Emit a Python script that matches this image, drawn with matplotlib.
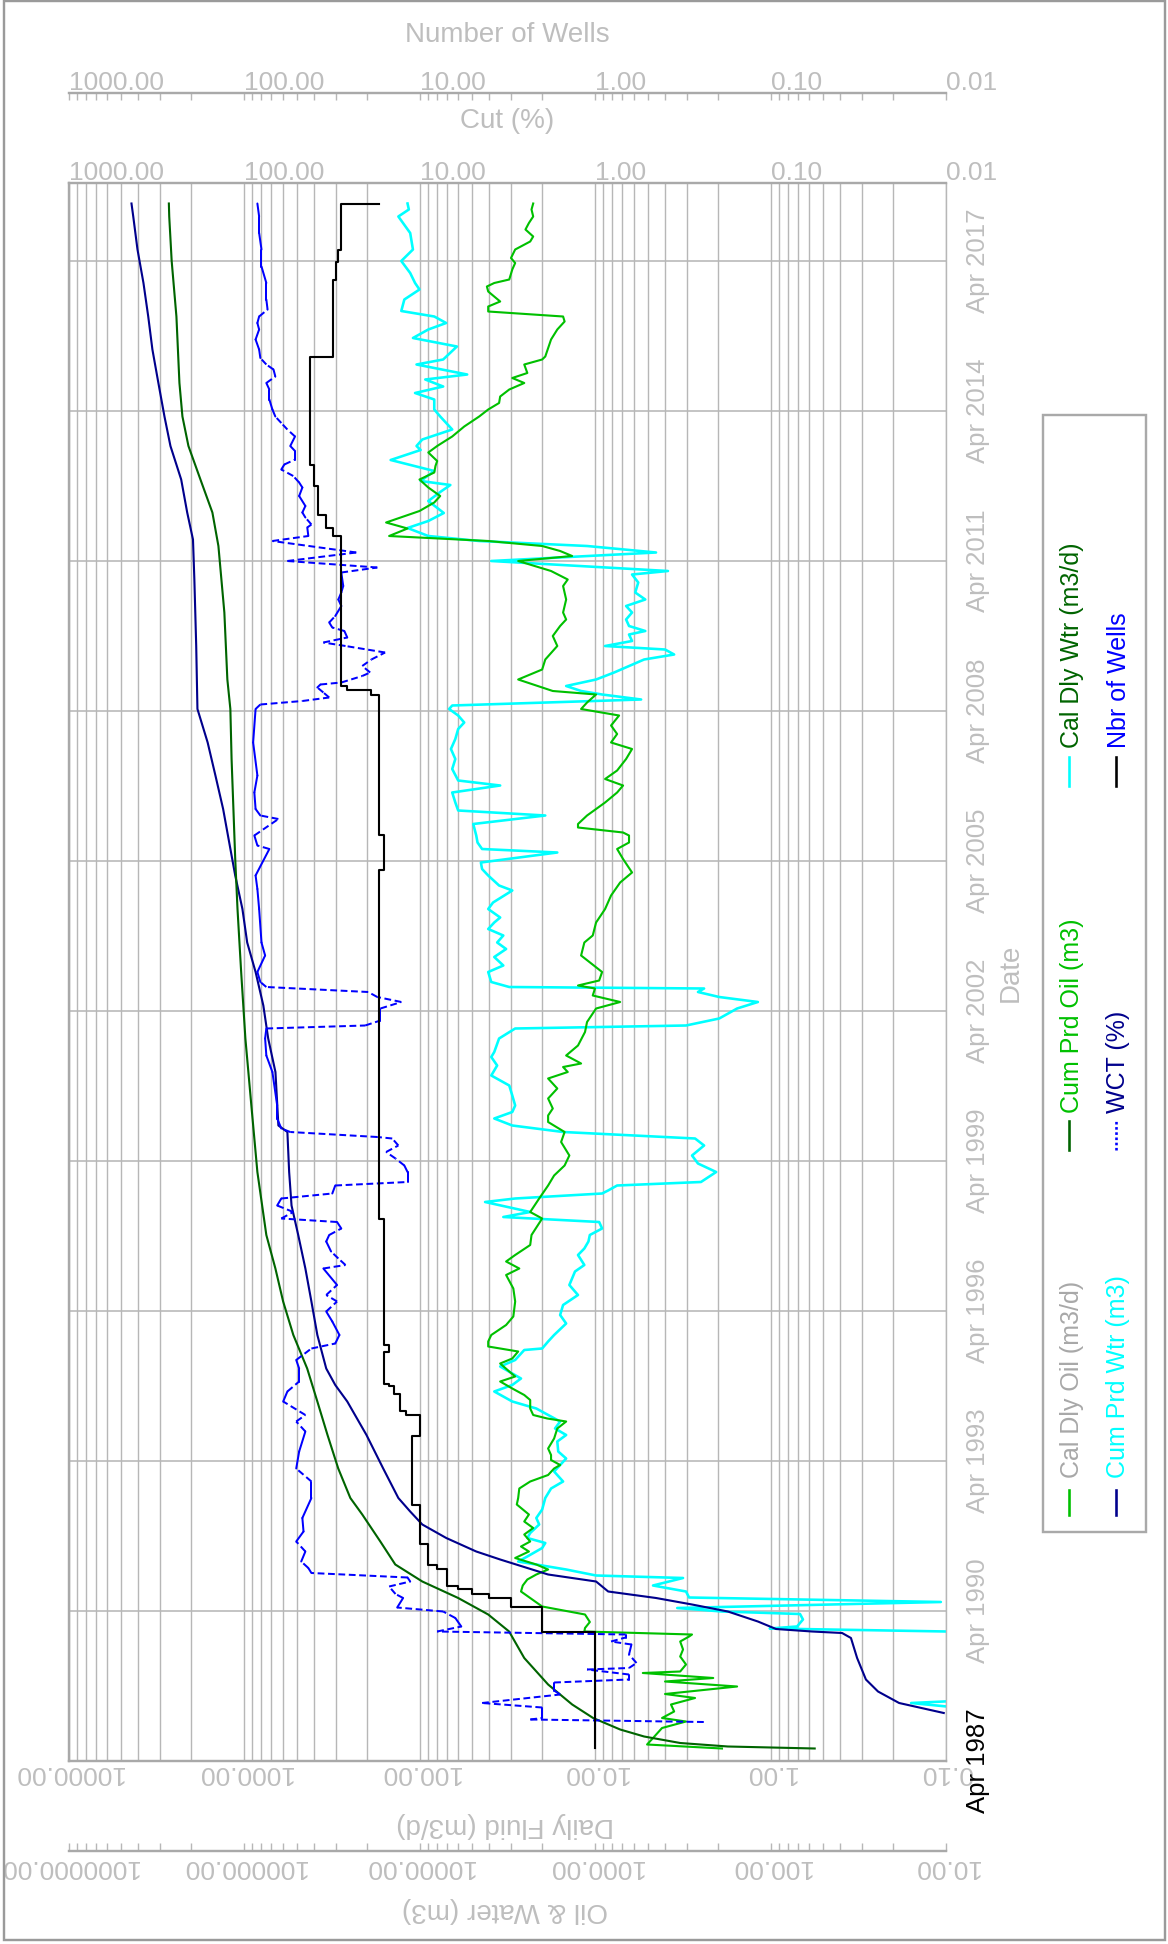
import numpy as np
import matplotlib
matplotlib.use("Agg")
import matplotlib.pyplot as plt
from matplotlib import transforms
from matplotlib.collections import LineCollection
from matplotlib.lines import Line2D
from matplotlib.patches import Rectangle
from matplotlib.ticker import LogLocator, NullFormatter

plt.rcParams['font.family'] = ['Liberation Sans', 'DejaVu Sans']

# ---------------------------------------------------------------------------
# Production history, time given in years elapsed since first month (Apr 1987)
# ---------------------------------------------------------------------------
START = 1987.25          # Apr 1987
END_ELAPSED = 31.56      # end of the date axis (Oct 2018)

# Calendar-day oil rate (m3/d)
oil_rate_t = [0.25, 0.33, 0.46, 0.66, 0.79, 0.86, 0.99, 1.13, 1.26, 1.34, 1.49, 1.59, 1.66, 1.76, 1.79,
              1.93, 2.09, 2.23, 2.39, 2.49, 2.53, 2.59, 2.66, 2.78, 2.93, 3.09, 3.26, 3.39, 3.51, 3.63,
              3.73, 3.83, 3.93, 4.06, 4.19, 4.29, 4.39, 4.53, 4.66, 4.79, 4.93, 5.13, 5.26, 5.45, 5.59,
              5.72, 5.85, 5.92, 6.02, 6.12, 6.25, 6.45, 6.65, 6.79, 6.85, 6.92, 7.05, 7.22, 7.32, 7.45,
              7.59, 7.69, 7.79, 7.95, 8.05, 8.19, 8.29, 8.39, 8.52, 8.72, 8.89, 9.19, 9.45, 9.72, 9.85,
              9.99, 10.12, 10.32, 10.52, 10.85, 10.98, 11.25, 11.51, 11.71, 11.91, 12.11, 12.38, 12.58,
              12.78, 12.91, 13.05, 13.25, 13.45, 13.65, 13.78, 13.88, 13.95, 14.11, 14.31, 14.58, 14.78,
              15.05, 15.18, 15.31, 15.45, 15.51, 15.61, 15.78, 16.11, 16.37, 16.51, 16.77, 17.04, 17.31,
              17.57, 17.77, 18.04, 18.24, 18.37, 18.51, 18.57, 18.67, 18.74, 18.91, 19.04, 19.17, 19.37,
              19.51, 19.64, 19.81, 20.04, 20.24, 20.37, 20.54, 20.71, 20.91, 21.04, 21.17, 21.33, 21.40,
              21.63, 21.83, 22.03, 22.30, 22.50, 22.70, 22.83, 22.97, 23.23, 23.50, 23.63, 23.80, 24.00,
              24.10, 24.20, 24.30, 24.40, 24.50, 24.65, 24.77, 25.00, 25.17, 25.30, 25.47, 25.63, 25.77,
              25.90, 26.00, 26.17, 26.30, 26.49, 26.69, 26.89, 27.03, 27.16, 27.29, 27.43, 27.56, 27.66,
              27.76, 27.93, 28.03, 28.09, 28.26, 28.43, 28.63, 28.79, 28.89, 28.99, 29.09, 29.19, 29.29,
              29.39, 29.49, 29.56, 29.63, 29.83, 29.96, 30.06, 30.23, 30.39, 30.49, 30.63, 30.76, 30.89,
              31.03, 31.15]
oil_rate = [1.89, 5.05, 4.67, 4.15, 3.03, 4.15, 3.54, 3.69, 2.69, 3.99, 1.55, 3.99, 2.12, 5.34, 3.27,
            3.03, 3.27, 3.15, 3.27, 2.91, 2.80, 11.5, 11.4, 10.7, 11.4, 20.0, 23.4, 26.4, 25.8, 24.3,
            21.6, 18.5, 21.6, 28.5, 23.8, 26.4, 23.4, 25.3, 22.5, 25.3, 23.8, 27.9, 27.4, 27.0, 23.4,
            18.5, 17.1, 15.8, 17.8, 17.8, 18.5, 17.1, 16.4, 14.6, 18.7, 22.5, 23.4, 23.4, 25.3, 29.6,
            34.7, 28.5, 30.8, 34.7, 29.6, 27.4, 40.6, 40.6, 39.0, 32.1, 29.2, 28.5, 29.2, 32.1, 27.0,
            32.1, 28.5, 23.4, 23.0, 20.0, 23.4, 20.8, 18.5, 17.1, 14.9, 14.0, 15.6, 14.9,
            18.5, 18.5, 17.4, 18.5, 16.4, 18.5, 14.3, 15.2, 12.0, 14.6, 12.5, 11.4, 11.1,
            9.86, 7.19, 10.3, 10.0, 12.5, 9.47, 9.11, 12.0, 11.5, 10.3, 9.86, 8.76, 8.10,
            7.19, 6.15, 6.92, 7.48, 6.40, 6.40, 6.92, 12.5, 12.5, 11.1, 9.86, 8.76, 7.48,
            6.92, 8.76, 7.48, 6.65, 6.15, 8.10, 7.48, 8.10, 7.29, 12.0, 11.1, 9.86, 17.4,
            27.4, 20.0, 19.2, 16.4, 17.4, 15.8, 14.6, 15.2, 14.6, 15.2, 14.3, 17.8, 27.4,
            13.5, 15.8, 20.0, 40.6, 149.0, 117.0, 155.0, 100.0, 82.4, 76.2, 89.1, 100.0, 82.4,
            81.1, 79.3, 89.1, 79.3, 65.1, 55.6, 45.7, 40.6, 35.2, 34.7, 30.8, 25.3, 29.6,
            24.3, 25.3, 20.0, 19.2, 18.5, 17.8, 16.4, 14.9, 15.2, 40.6, 40.6, 34.7, 37.5,
            40.6, 41.3, 37.5, 30.8, 29.6, 28.5, 30.1, 28.5, 23.4, 22.5, 24.9, 23.8, 22.5,
            23.0, 22.5]

# Calendar-day water rate (m3/d)
wtr_rate_t = [1.02, 1.09, 1.16, 1.19, 1.25, 2.55, 2.59, 2.65, 2.69, 2.83, 2.94, 2.99, 3.06, 3.18, 3.27,
              3.39, 3.51, 3.66, 3.71, 3.83, 3.89, 3.99, 4.09, 4.26, 4.36, 4.46, 4.56, 4.73, 4.86, 5.03,
              5.26, 5.45, 5.59, 5.79, 5.92, 6.05, 6.19, 6.39, 6.52, 6.65, 6.79, 7.05, 7.19, 7.39, 7.52,
              7.65, 7.75, 7.89, 8.02, 8.22, 8.25, 8.39, 8.52, 8.75, 8.92, 9.12, 9.32, 9.52, 9.79, 9.92,
              10.12, 10.25, 10.39, 10.52, 10.65, 10.78, 10.88, 10.98, 11.18, 11.25, 11.35, 11.41, 11.51,
              11.58, 11.78, 11.95, 12.11, 12.31, 12.45, 12.58, 12.71, 12.85, 12.98, 13.11, 13.31, 13.51,
              13.71, 13.91, 14.08, 14.18, 14.45, 14.65, 14.71, 14.85, 15.05, 15.18, 15.28, 15.38, 15.45,
              15.48, 15.58, 15.78, 15.91, 16.08, 16.24, 16.37, 16.51, 16.64, 16.77, 16.87, 17.04, 17.17,
              17.41, 17.51, 17.71, 17.84, 17.97, 18.17, 18.24, 18.37, 18.51, 18.74, 18.91, 19.01, 19.17,
              19.37, 19.51, 19.61, 19.84, 20.04, 20.24, 20.44, 20.64, 20.77, 20.91, 21.04, 21.11, 21.23,
              21.33, 21.40, 21.50, 21.63, 21.77, 21.90, 22.03, 22.13, 22.23, 22.30, 22.40, 22.53, 22.60,
              22.70, 22.83, 22.97, 23.10, 23.23, 23.37, 23.57, 23.73, 23.80, 24.00, 24.17, 24.30, 24.40,
              24.50, 24.66, 24.80, 24.96, 25.20, 25.38, 25.52, 25.60, 25.80, 26.02, 26.22, 26.30, 26.43,
              26.63, 26.89, 27.03, 27.23, 27.36, 27.49, 27.63, 27.73, 27.93, 28.03, 28.29, 28.46, 28.63,
              28.76, 28.89, 29.00, 29.23, 29.43, 29.56, 29.76, 30.00, 30.23, 30.56, 30.89, 31.03, 31.15]
wtr_rate = [0.05, 0.099, 0.158, 0.103, 0.05, 0.05, 0.099, 1.01, 0.706, 0.653, 0.679, 1.89, 3.40, 0.107, 2.91,
            3.03, 4.67, 3.15, 9.86, 14.6, 18.5, 27.4, 24.3, 20.0, 19.2, 24.3, 23.4, 20.8, 21.6, 20.0,
            19.2, 17.8, 15.2, 17.1, 15.8, 14.6, 16.2, 16.4, 14.6, 16.9, 15.8, 21.6, 29.6, 37.5, 29.6,
            26.4, 29.6, 34.7, 28.5, 25.3, 20.0, 18.5, 17.1, 14.6, 15.8, 15.2, 12.5, 14.0, 13.0, 11.5,
            12.5, 11.5, 10.9, 10.7, 9.11, 9.47, 33.3, 23.4, 42.3, 28.5, 9.11, 8.42, 7.48,
            2.49, 2.04, 2.59, 2.80, 2.39, 2.69, 15.2, 29.6, 37.5, 29.6, 28.5, 29.6, 30.8,
            39.0, 36.1, 39.0, 37.5, 35.2, 28.5, 3.03, 1.96, 1.55, 1.18, 1.96, 2.59, 2.39,
            30.8, 39.0, 40.6, 33.3, 37.5, 32.1, 36.1, 33.3, 40.6, 37.5, 34.7, 40.6, 38.1,
            29.6, 35.2, 40.6, 44.0, 44.7, 16.4, 44.0, 46.7, 47.5, 49.4, 19.2, 60.2, 62.5,
            65.1, 34.7, 60.2, 65.1, 62.5, 66.2, 62.5, 60.2, 55.6, 60.2, 67.8, 65.1, 5.46,
            9.11, 12.0, 14.6, 9.86, 7.78, 6.40, 5.25, 3.54, 3.99, 8.76, 6.15, 6.40, 5.17,
            6.40, 6.65, 6.15, 6.65, 5.17, 5.90, 5.67, 6.15, 3.84, 39.0, 4.49, 11.1, 45.7,
            89.1, 117.0, 89.1, 72.7, 89.1, 76.2, 66.7, 98.5, 82.4, 146.0, 98.5, 104.0, 96.4,
            65.1, 76.2, 82.4, 82.4, 106.0, 73.3, 92.7, 53.5, 104.0, 73.3, 61.2, 109.0, 89.1,
            70.5, 82.4, 127.0, 122.0, 100.0, 106.0, 113.0, 127.0, 109.0, 113.0, 132.0, 115.0, 117.0]

# Cumulative oil production (m3)
cum_oil_t = [0.25, 0.29, 0.36, 0.49, 0.63, 0.86, 1.13, 1.53, 2.06, 2.59, 2.93, 3.26, 3.59, 3.93, 4.39,
             4.93, 5.26, 5.85, 6.52, 7.19, 7.85, 8.52, 9.19, 9.85, 10.52, 11.78, 13.11, 14.45, 15.78,
             17.04, 18.04, 19.04, 20.04, 21.04, 21.63, 22.97, 24.30, 24.97, 25.63, 26.30, 26.89, 27.56,
             28.89, 30.00, 30.89, 31.15]
cum_oil = [56, 175, 327, 525, 719, 1025, 1349, 1850, 2530, 3086, 4060, 6020, 9640, 13740, 16720,
           21190, 24780, 29040, 33430, 38200, 43650, 52350, 59840, 66240, 74600, 83900, 90800, 98200, 103800,
           108900, 112200, 114900, 117700, 119600, 124400, 129400, 139900, 151400, 177100, 207300, 224300,
           233300, 242700, 258300, 266700, 268000]

# Cumulative water production (m3)
cum_wtr_t = [0.96, 1.16, 1.39, 1.63, 2.06, 2.46, 2.56, 2.59, 2.64, 2.79, 2.99, 3.13, 3.26, 3.39, 3.59,
             3.73, 4.03, 4.19, 4.46, 4.73, 4.99, 5.26, 5.85, 6.52, 7.19, 7.52, 7.85, 8.52, 9.19, 9.85,
             10.52, 11.11, 11.78, 12.58, 12.71, 13.11, 13.78, 14.45, 15.11, 15.78, 16.37, 17.04, 17.71,
             18.37, 19.04, 19.71, 20.37, 21.04, 22.30, 23.63, 24.43, 24.97, 25.63, 26.30, 26.89, 27.56,
             28.23, 28.89, 29.56, 30.23, 30.89, 31.15]
cum_wtr = [10.3, 18.5, 24.4, 28.6, 32.1, 34.8, 39.1, 58, 93, 118, 175, 280, 449, 841, 986,
           1850, 3470, 4750, 7040, 9640, 11300, 13200, 16100, 20050, 25800, 30200, 34000, 38200, 41300, 44700,
           49100, 53600, 55300, 56600, 63700, 64600, 66200, 72800, 77600, 85900, 95900, 102100, 112200,
           121400, 131500, 145500, 161100, 184200, 187200, 191800, 195300, 210700, 228000, 262500, 283900,
           307500, 332600, 351300, 374000, 404500, 427600, 437600]

# Water cut (%)
wct_t = [0.78, 0.83, 0.86, 1.07, 1.16, 1.33, 1.41, 1.57, 1.63, 1.73, 1.83, 1.86, 1.96, 2.13, 2.33,
         2.39, 2.47, 2.53, 2.59, 2.69, 2.86, 2.99, 3.07, 3.26, 3.34, 3.49, 3.59, 3.67, 3.76, 3.86,
         3.99, 4.19, 4.39, 4.59, 4.86, 5.26, 5.59, 5.85, 6.19, 6.59, 6.79, 6.92, 7.19, 7.39, 7.59,
         7.85, 8.02, 8.25, 8.35, 8.52, 8.79, 8.99, 9.19, 9.32, 9.52, 9.85, 9.92, 10.05, 10.19, 10.39,
         10.52, 10.65, 10.78, 10.85, 10.98, 11.11, 11.25, 11.35, 11.51, 11.58, 11.78, 11.91, 12.05,
         12.18, 12.31, 12.45, 12.48, 12.58, 12.65, 12.85, 13.11, 13.78, 14.11, 14.45, 14.65, 14.71,
         14.81, 15.05, 15.18, 15.28, 15.38, 15.48, 15.58, 15.78, 16.11, 16.37, 17.04, 17.44, 17.71,
         18.24, 18.31, 18.51, 18.84, 18.91, 19.04, 19.37, 19.71, 20.37, 21.04, 21.13, 21.20, 21.27,
         21.37, 21.47, 21.53, 21.57, 21.70, 21.77, 21.90, 22.03, 22.17, 22.30, 22.37, 22.47, 22.60,
         22.67, 22.77, 22.90, 23.10, 23.23, 23.37, 23.50, 23.77, 23.87, 24.00, 24.17, 24.40, 24.50,
         24.67, 24.73, 24.87, 24.97, 25.10, 25.30, 25.47, 25.57, 25.70, 25.83, 25.93, 26.03, 26.20,
         26.30, 26.49, 26.63, 26.76, 26.89, 27.03, 27.23, 27.43, 27.56, 27.69, 27.83, 27.93, 28.06,
         28.23, 28.43, 28.63, 28.76, 28.89, 29.03, 29.23, 29.56, 29.89, 30.23, 30.56, 30.89, 31.15]
wct = [0.24, 2.34, 2.00, 2.00, 4.40, 1.58, 1.71, 1.71, 0.64, 0.64, 1.11, 0.64, 0.58, 0.64, 0.62,
       0.81, 0.67, 0.67, 7.93, 5.78, 6.25, 7.33, 13.4, 12.4, 13.7, 14.9, 11.3, 11.7, 41.3, 43.0,
       47.2, 44.7, 50.4, 45.8, 46.5, 41.3, 41.3, 50.4, 48.5, 44.7, 50.4, 44.7, 59.8, 56.6, 48.5,
       48.5, 50.4, 41.3, 30.2, 28.6, 31.4, 34.0, 29.5, 34.0, 29.5, 35.3, 26.4, 29.0, 31.9, 34.0,
       32.7, 27.9, 29.5, 61.3, 52.4, 64.7, 61.3, 31.4, 30.2, 11.7, 11.7, 12.2, 13.7,
       15.5, 13.2, 14.3, 17.4, 54.5, 61.3, 64.7, 64.7, 68.9, 74.6, 75.8, 74.6, 20.4,
       16.7, 16.7, 12.7, 17.4, 19.6, 74.6, 80.7, 83.9, 75.8, 79.5, 82.0, 83.9, 85.9,
       71.7, 83.9, 87.3, 63.7, 80.7, 85.9, 87.3, 83.9, 88.7, 85.9, 80.7, 46.5, 32.7,
       35.3, 38.2, 36.7, 27.9, 21.2, 19.1, 21.2, 18.8, 15.7, 26.4, 35.3, 25.8, 26.8,
       31.4, 32.7, 30.2, 27.9, 29.0, 27.9, 27.2, 27.9, 17.4, 56.6, 22.9, 68.9, 43.0,
       43.6, 41.3, 44.7, 46.5, 44.7, 48.5, 46.5, 48.5, 52.4, 61.3, 58.9, 51.2, 51.2,
       54.5, 51.2, 56.6, 61.3, 66.3, 68.9, 71.7, 71.7, 74.6, 66.3, 67.9, 74.6, 80.7,
       82.0, 85.9, 82.0, 83.9, 82.0, 73.4, 74.6, 74.6, 79.5, 79.5, 82.0, 82.0, 83.9]

# Number of producing wells (held until the next change)
wells_t = [0.26, 2.59, 3.08, 3.27, 3.35, 3.44, 3.51, 3.85, 3.93, 4.35, 5.13, 6.50, 6.92, 7.00, 7.35,
           7.50, 7.55, 8.18, 8.32, 10.85, 17.82, 18.52, 21.33, 21.43, 21.51, 24.50, 24.67, 24.93, 25.50,
           25.93, 28.09, 29.63, 29.99, 30.23, 31.15]
wells = [1, 2, 3, 4, 5, 6, 7, 8, 9, 10, 11, 10, 12, 13, 14, 15, 16, 15, 16, 17, 16, 17, 19, 26, 28,
         31, 34, 38, 40, 42, 31, 30, 29, 28, 17]

# Axis decades and labels
rate_ticks = [1e4, 1e3, 1e2, 1e1, 1e0, 1e-1]
rate_labels = ["10000.00", "1000.00", "100.00", "10.00", "1.00", "0.10"]
cum_ticks = [1e6, 1e5, 1e4, 1e3, 1e2, 1e1]
cum_labels = ["1000000.00", "100000.00", "10000.00", "1000.00", "100.00", "10.00"]
pct_ticks = [1e3, 1e2, 1e1, 1e0, 1e-1, 1e-2]
pct_labels = ["1000.00", "100.00", "10.00", "1.00", "0.10", "0.01"]
date_offsets = [0, 3, 6, 9, 12, 15, 18, 21, 24, 27, 30]
date_labels = ["Apr 1987", "Apr 1990", "Apr 1993", "Apr 1996", "Apr 1999", "Apr 2002",
               "Apr 2005", "Apr 2008", "Apr 2011", "Apr 2014", "Apr 2017"]

legend_names = ["Cal Dly Oil (m3/d)", "Cum Prd Oil (m3)", "Cal Dly Wtr (m3/d)",
                "Cum Prd Wtr (m3)", "WCT (%)", "Nbr of Wells"]

# ---------------------------------------------------------------------------
W, H = 1168, 1944
fig = plt.figure(figsize=(W / 100, H / 100), dpi=100)
PT = 72 / 100      # points per pixel

GRID = '#b7b7b7'
SPINE = '#a9a9a9'
TXT = '#bebebe'
C_OIL = '#00c000'
C_CUMOIL = '#006400'
C_WTR = '#00ffff'
C_CUMWTR = '#00008c'
C_WCT = '#0000ff'
C_WELLS = '#000000'


def box(x0, y0, x1, y1):
    """Pixel box (origin top-left) to figure fraction rectangle."""
    return [x0 / W, 1 - y1 / H, (x1 - x0) / W, (y1 - y0) / H]


def fy(py):
    return 1 - py / H


def fx(px):
    return px / W


PL, PR, PTOP, PB = 68.5, 946, 183, 1761

# ---- main plotting frame: daily rates, date running upwards ----------------
ax = fig.add_axes(box(PL, PTOP, PR, PB))
ax.set_xscale('log')
ax.set_xlim(1e4, 0.1)
ax.set_ylim(START, START + END_ELAPSED)
ax.xaxis.set_major_locator(LogLocator(base=10, numticks=20))
ax.xaxis.set_minor_locator(LogLocator(base=10, subs=np.arange(2, 10), numticks=20))
ax.xaxis.set_minor_formatter(NullFormatter())
ax.set_yticks([START + d for d in date_offsets])
ax.tick_params(which='both', length=0, labelbottom=False, labelleft=False,
               labeltop=False, labelright=False)
ax.grid(True, which='both', axis='x', color=GRID, lw=1.4 * PT)
ax.grid(True, which='major', axis='y', color=GRID, lw=1.6 * PT)
ax.set_axisbelow(True)
for s in ('left', 'top', 'bottom'):
    ax.spines[s].set_color(SPINE)
    ax.spines[s].set_linewidth(2.4 * PT)
ax.spines['right'].set_color(GRID)
ax.spines['right'].set_linewidth(1.4 * PT)

oil_y = START + np.array(oil_rate_t)
wtr_y = START + np.array(wtr_rate_t)
ax.plot(wtr_rate, wtr_y, color=C_WTR, lw=2.6 * PT, solid_joinstyle='round')
ax.plot(oil_rate, oil_y, color=C_OIL, lw=2.1 * PT, solid_joinstyle='round')

# ---- cumulative volumes on their own log scale ----------------------------
ax_cum = ax.twiny()
ax_cum.set_xscale('log')
ax_cum.plot(cum_wtr, START + np.array(cum_wtr_t), color=C_CUMWTR, lw=2.1 * PT)
ax_cum.plot(cum_oil, START + np.array(cum_oil_t), color=C_CUMOIL, lw=2.1 * PT)
ax_cum.set_xlim(1e6, 10)
ax_cum.tick_params(which='both', length=0, labeltop=False, labelbottom=False)
for s in ax_cum.spines.values():
    s.set_visible(False)

# ---- water cut and well count (percent / count scale) ---------------------
ax_pct = ax.twiny()
ax_pct.set_xscale('log')
ax_pct.set_xlim(1e3, 0.01)
ax_pct.set_ylim(START, START + END_ELAPSED)

# The dash pattern restarts on every monthly step, so slow drifts read as a
# solid line and only the faster month-to-month swings show up as dashes.
wct_pts = np.column_stack([wct, START + np.array(wct_t)])
wct_segs = np.stack([wct_pts[:-1], wct_pts[1:]], axis=1)
wct_disp = ax_pct.transData.transform(wct_pts)
month_px = (PB - PTOP) / END_ELAPSED / 12.0
solid_segs, dashed_segs = [], []
for i in range(len(wct_segs)):
    dx = abs(wct_disp[i + 1, 0] - wct_disp[i, 0])
    dy = abs(wct_disp[i + 1, 1] - wct_disp[i, 1])
    months = max(dy / month_px, 1.0)
    (dashed_segs if dx / months > 3.5 else solid_segs).append(wct_segs[i])
ax_pct.add_collection(LineCollection(solid_segs, colors=C_WCT, linewidths=2.0 * PT,
                                     capstyle='round'))
ax_pct.add_collection(LineCollection(dashed_segs, colors=C_WCT, linewidths=2.0 * PT,
                                     linestyles=[(0, (3.4, 1.8))], capstyle='butt'))

step_x, step_y = [], []
for i, (t0, n) in enumerate(zip(wells_t, wells)):
    step_x.append(n)
    step_y.append(START + t0)
    if i + 1 < len(wells_t):
        step_x.append(n)
        step_y.append(START + wells_t[i + 1])
ax_pct.plot(step_x, step_y, color=C_WELLS, lw=2.1 * PT)
ax_pct.set_xlim(1e3, 0.01)
ax_pct.set_ylim(START, START + END_ELAPSED)
ax_pct.tick_params(which='both', length=0, labeltop=False, labelbottom=False)
for s in ax_pct.spines.values():
    s.set_visible(False)

# ---- detached axis for Number of Wells (top) -------------------------------
ax_w = fig.add_axes(box(PL, 93, PR, 100))
ax_w.patch.set_visible(False)
ax_w.set_xscale('log')
ax_w.set_xlim(1e3, 0.01)
ax_w.set_yticks([])
for s in ('left', 'right', 'bottom'):
    ax_w.spines[s].set_visible(False)
ax_w.spines['top'].set_color(SPINE)
ax_w.spines['top'].set_linewidth(2.4 * PT)
ax_w.xaxis.set_ticks_position('top')
ax_w.xaxis.set_major_locator(LogLocator(base=10, numticks=20))
ax_w.xaxis.set_minor_locator(LogLocator(base=10, subs=np.arange(2, 10), numticks=20))
ax_w.xaxis.set_minor_formatter(NullFormatter())
ax_w.tick_params(which='both', direction='in', length=7 * PT, width=1.4 * PT, color=GRID,
                 labeltop=False, labelbottom=False)

# ---- detached axis for Oil & Water cumulative (bottom) ---------------------
ax_o = fig.add_axes(box(PL, 1843, PR, 1851))
ax_o.patch.set_visible(False)
ax_o.set_xscale('log')
ax_o.set_xlim(1e6, 10)
ax_o.set_yticks([])
for s in ('left', 'right', 'top'):
    ax_o.spines[s].set_visible(False)
ax_o.spines['bottom'].set_color(SPINE)
ax_o.spines['bottom'].set_linewidth(2.4 * PT)
ax_o.xaxis.set_major_locator(LogLocator(base=10, numticks=20))
ax_o.xaxis.set_minor_locator(LogLocator(base=10, subs=np.arange(2, 10), numticks=20))
ax_o.xaxis.set_minor_formatter(NullFormatter())
ax_o.tick_params(which='both', direction='in', length=8 * PT, width=1.4 * PT, color=GRID,
                 labeltop=False, labelbottom=False)

# ---- tick labels ----------------------------------------------------------
FS = 19


def top_labels(axis, ticks, labels, baseline_px):
    tr = transforms.blended_transform_factory(axis.transData, fig.transFigure)
    for v, s in zip(ticks, labels):
        axis.text(v, fy(baseline_px), s, transform=tr, ha='left', va='baseline',
                  fontsize=FS, color=TXT, clip_on=False)


def bottom_labels(axis, ticks, labels, center_px):
    tr = transforms.blended_transform_factory(axis.transData, fig.transFigure)
    for v, s in zip(ticks, labels):
        axis.text(v, fy(center_px), s, transform=tr, ha='center', va='center_baseline',
                  rotation=180, rotation_mode='anchor', fontsize=FS, color=TXT, clip_on=False)


top_labels(ax_w, pct_ticks, pct_labels, 90)
top_labels(ax_pct, pct_ticks, pct_labels, 180)
bottom_labels(ax, rate_ticks, rate_labels, 1776)
bottom_labels(ax_o, cum_ticks, cum_labels, 1869)

date_tr = transforms.blended_transform_factory(fig.transFigure, ax.transData)
for d, s in zip(date_offsets, date_labels):
    ax.text(fx(976), START + d, s, transform=date_tr, rotation=90, rotation_mode='anchor',
            ha='center', va='center_baseline', fontsize=18.5,
            color='black' if d == 0 else TXT, clip_on=False)

# ---- axis titles -----------------------------------------------------------
fig.text(fx(507), fy(32), "Number of Wells", ha='center', va='center_baseline',
         fontsize=20, color=TXT)
fig.text(fx(507), fy(118), "Cut (%)", ha='center', va='center_baseline',
         fontsize=20, color=TXT)
fig.text(fx(505), fy(1828), "Daily Fluid (m3/d)", ha='center', va='center_baseline',
         rotation=180, rotation_mode='anchor', fontsize=20, color=TXT)
fig.text(fx(505), fy(1913), "Oil & Water (m3)", ha='center', va='center_baseline',
         rotation=180, rotation_mode='anchor', fontsize=20, color=TXT)
fig.text(fx(1008), fy(973), "Date", ha='center', va='center_baseline',
         rotation=90, rotation_mode='anchor', fontsize=20, color=TXT)

# ---- legend ----------------------------------------------------------------
fig.add_artist(Rectangle((fx(1043), fy(1532)), (1146 - 1043) / W, (1532 - 415) / H,
                         transform=fig.transFigure, fill=False, edgecolor=SPINE, lw=2.4 * PT))
leg_cols = [1069, 1069, 1069, 1116, 1116, 1116]
leg_mark = [(1490, 1515), (1121, 1150), (757, 786)] * 2
leg_text_start = [1478, 1113, 748] * 2
leg_line_colors = [C_OIL, C_CUMOIL, C_WTR, C_CUMWTR, C_WCT, C_WELLS]
leg_line_styles = ['-', '-', '-', '-', (0, (1, 1)), '-']
leg_text_colors = ['#a8a8a8', C_OIL, C_CUMOIL, C_WTR, C_CUMWTR, C_WCT]
for x, (m0, m1), t0, lc, ls, tc, name in zip(leg_cols, leg_mark, leg_text_start, leg_line_colors,
                                             leg_line_styles, leg_text_colors, legend_names):
    fig.add_artist(Line2D([fx(x), fx(x)], [fy(m1), fy(m0)], transform=fig.transFigure,
                          color=lc, lw=2.6 * PT, linestyle=ls))
    fig.text(fx(x), fy(t0), name, rotation=90, rotation_mode='anchor', ha='left',
             va='center_baseline', fontsize=18, color=tc)

# ---- outer border ----------------------------------------------------------
fig.add_artist(Rectangle((fx(3.5), fy(1939.5)), (1165 - 3.5) / W, (1939.5 - 1.5) / H,
                         transform=fig.transFigure, fill=False, edgecolor='#9a9a9a', lw=2.4 * PT))

fig.savefig("out.png", dpi=100)
